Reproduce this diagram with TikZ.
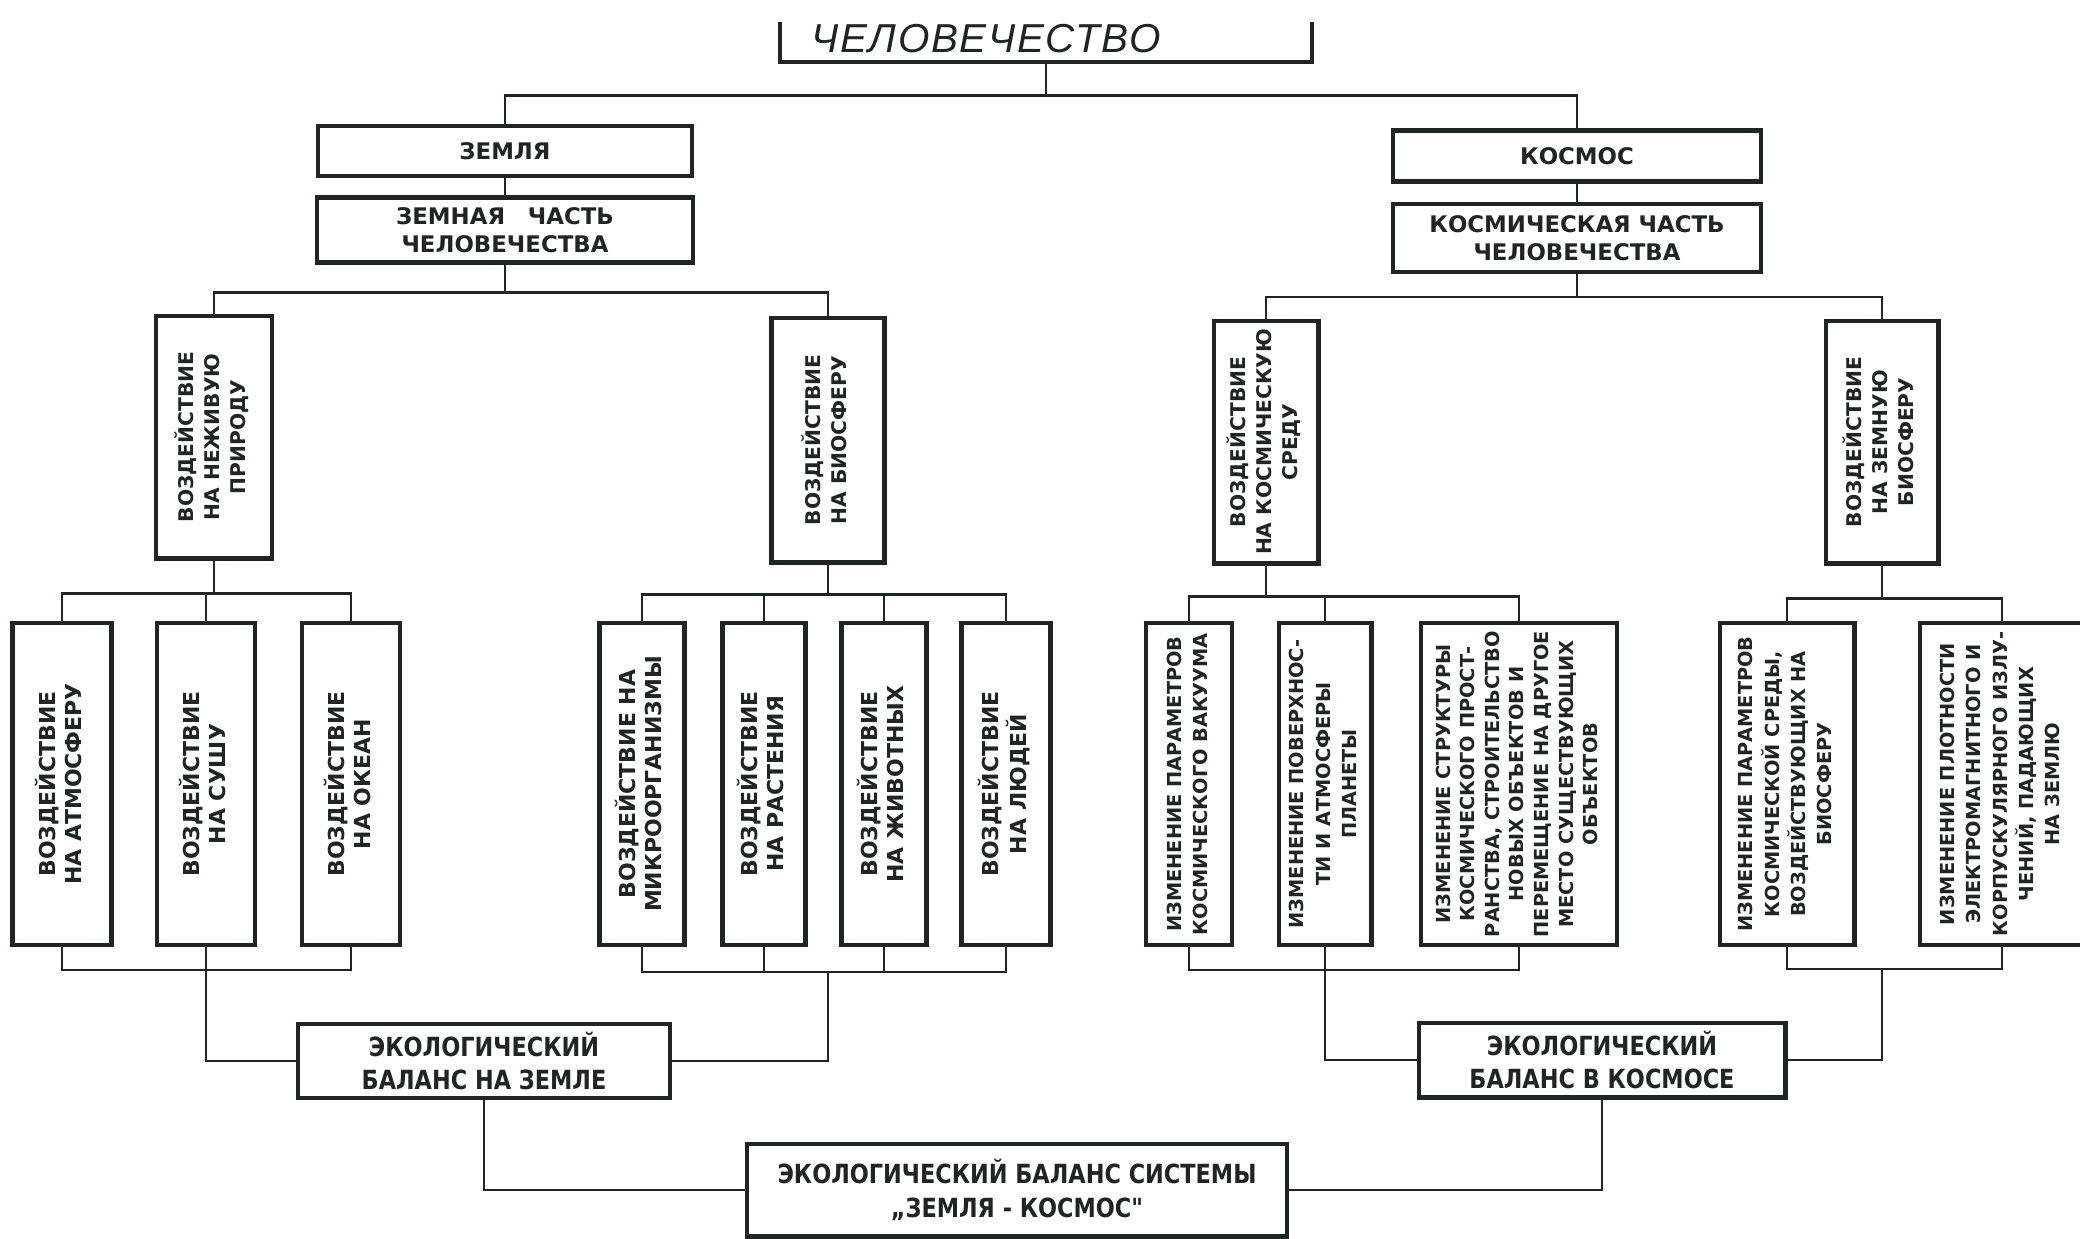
\documentclass[tikz,border=0pt]{standalone}
\usepackage{fontspec}
\setmainfont{DejaVu Sans}
\newfontfamily\handfont[LetterSpace=4]{Liberation Sans}
\newfontfamily\ecofont[FakeStretch=0.85]{DejaVu Sans}
\usepackage{graphicx}
\usepackage{tikz}

\definecolor{ink}{RGB}{30,38,34}
% rotated text, read from bottom to top
\newcommand{\vtxt}[1]{\rotatebox{90}{\begin{tabular}{@{}c@{}}#1\end{tabular}}}

\begin{document}
\begin{tikzpicture}[x=0.02cm, y=-0.02cm,
    hbox/.style={draw=ink, line width=2.3pt, text=ink, inner sep=0pt, align=center, font=\bfseries\fontsize{13}{16}\selectfont},
    vbox/.style={hbox, font=\bfseries\fontsize{12.5}{15}\selectfont},
    tbox/.style={hbox, font=\bfseries\fontsize{11.5}{15}\selectfont},
    sbox/.style={hbox, font=\bfseries\fontsize{11}{15}\selectfont},
    ecobox/.style={hbox, font=\ecofont\bfseries\fontsize{15}{19}\selectfont},
    link/.style={draw=ink, line width=1.6pt}]
    \useasboundingbox[fill=white] (0,0) rectangle (2080,1238);

    % top
    \node[text=ink, font=\handfont\itshape\fontsize{23}{25}\selectfont, minimum height=0.8cm, text width=9.38cm, inner xsep=0.62cm, inner ysep=0pt, align=left](title) at (1046,42){\raisebox{-6pt}[0pt][0pt]{ЧЕЛОВЕЧЕСТВО}};
    \draw[draw=ink, line width=2.3pt] (title.north west) |- (title.south) -| (title.north east);

    \node[hbox, minimum width=7.48cm, minimum height=1cm](zemlya) at (505,151){ЗЕМЛЯ};
    \node[hbox, minimum width=7.52cm, minimum height=1.3cm](zchast) at (505,230){ЗЕМНАЯ\quad ЧАСТЬ\\ЧЕЛОВЕЧЕСТВА};
    \node[hbox, minimum width=7.36cm, minimum height=1.02cm](kosmos) at (1577,156){КОСМОС};
    \node[hbox, minimum width=7.36cm, minimum height=1.36cm](kchast) at (1577,238){КОСМИЧЕСКАЯ ЧАСТЬ\\ЧЕЛОВЕЧЕСТВА};

    % second row
    \node[tbox, minimum width=2.32cm, minimum height=4.86cm](nezh) at (214,437){\vtxt{ВОЗДЕЙСТВИЕ\\НА НЕЖИВУЮ\\ПРИРОДУ}};
    \node[tbox, minimum width=2.26cm, minimum height=4.9cm](bio) at (828,440){\vtxt{ВОЗДЕЙСТВИЕ\\НА БИОСФЕРУ}};
    \node[tbox, minimum width=2.1cm, minimum height=4.86cm](kosm) at (1266,442){\vtxt{ВОЗДЕЙСТВИЕ\\НА КОСМИЧЕСКУЮ\\СРЕДУ}};
    \node[tbox, minimum width=2.26cm, minimum height=4.86cm](zbio) at (1882,442){\vtxt{ВОЗДЕЙСТВИЕ\\НА ЗЕМНУЮ\\БИОСФЕРУ}};

    % third row
    \node[vbox, minimum width=1.98cm, minimum height=6.44cm](atm) at (62,784){\vtxt{ВОЗДЕЙСТВИЕ\\НА АТМОСФЕРУ}};
    \node[vbox, minimum width=1.96cm, minimum height=6.44cm](sushu) at (206,784){\vtxt{ВОЗДЕЙСТВИЕ\\НА СУШУ}};
    \node[vbox, minimum width=1.96cm, minimum height=6.44cm](okean) at (351,784){\vtxt{ВОЗДЕЙСТВИЕ\\НА ОКЕАН}};
    \node[vbox, minimum width=1.7cm, minimum height=6.44cm](micro) at (642,784){\vtxt{ВОЗДЕЙСТВИЕ НА\\МИКРООРГАНИЗМЫ}};
    \node[vbox, minimum width=1.66cm, minimum height=6.44cm](rast) at (764,784){\vtxt{ВОЗДЕЙСТВИЕ\\НА РАСТЕНИЯ}};
    \node[vbox, minimum width=1.7cm, minimum height=6.44cm](zhiv) at (884,784){\vtxt{ВОЗДЕЙСТВИЕ\\НА ЖИВОТНЫХ}};
    \node[vbox, minimum width=1.78cm, minimum height=6.44cm](lyud) at (1006,784){\vtxt{ВОЗДЕЙСТВИЕ\\НА ЛЮДЕЙ}};
    \node[sbox, minimum width=1.72cm, minimum height=6.44cm](vak) at (1189,784){\vtxt{ИЗМЕНЕНИЕ ПАРАМЕТРОВ\\КОСМИЧЕСКОГО ВАКУУМА}};
    \node[sbox, minimum width=1.86cm, minimum height=6.44cm](pov) at (1325,784){\vtxt{ИЗМЕНЕНИЕ ПОВЕРХНОС-\\ТИ И АТМОСФЕРЫ\\ПЛАНЕТЫ}};
    \node[sbox, font=\bfseries\fontsize{11}{14}\selectfont, minimum width=3.92cm, minimum height=6.44cm](strukt) at (1519,784){\vtxt{ИЗМЕНЕНИЕ СТРУКТУРЫ\\КОСМИЧЕСКОГО ПРОСТ-\\РАНСТВА, СТРОИТЕЛЬСТВО\\НОВЫХ ОБЪЕКТОВ И\\ПЕРЕМЕЩЕНИЕ НА ДРУГОЕ\\МЕСТО СУЩЕСТВУЮЩИХ\\ОБЪЕКТОВ}};
    \node[sbox, minimum width=2.7cm, minimum height=6.44cm](sredy) at (1787,784){\vtxt{ИЗМЕНЕНИЕ ПАРАМЕТРОВ\\КОСМИЧЕСКОЙ СРЕДЫ,\\ВОЗДЕЙСТВУЮЩИХ НА\\БИОСФЕРУ}};
    \node[sbox, minimum width=3.28cm, minimum height=6.44cm](plot) at (2002,784){\vtxt{ИЗМЕНЕНИЕ ПЛОТНОСТИ\\ЭЛЕКТРОМАГНИТНОГО И\\КОРПУСКУЛЯРНОГО ИЗЛУ-\\ЧЕНИЙ, ПАДАЮЩИХ\\НА ЗЕМЛЮ}};

    % balance
    \node[ecobox, minimum width=7.44cm, minimum height=1.48cm](ecoZ) at (484,1061){ЭКОЛОГИЧЕСКИЙ\\БАЛАНС НА ЗЕМЛЕ};
    \node[ecobox, minimum width=7.34cm, minimum height=1.5cm](ecoK) at (1602,1060){ЭКОЛОГИЧЕСКИЙ\\БАЛАНС В КОСМОСЕ};
    \node[ecobox, minimum width=10.8cm, minimum height=1.86cm](final) at (1017,1190){ЭКОЛОГИЧЕСКИЙ БАЛАНС СИСТЕМЫ\\„ЗЕМЛЯ - КОСМОС"};

    % going down
    \draw[link](title.south) -- ++(0,33) coordinate(bar0);
    \draw[link](zemlya.north) |- (bar0) -| (kosmos.north);
    \draw[link](zemlya) -- (zchast);
    \draw[link](kosmos) -- (kchast);
    \draw[link](zchast.south) -- ++(0,28) coordinate(barZ);
    \draw[link](nezh.north) |- (barZ) -| (bio.north);
    \draw[link](kchast.south) -- ++(0,23) coordinate(barK);
    \draw[link](kosm.north) |- (barK) -| (zbio.north);

    \draw[link](nezh.south) -- ++(0,33) coordinate(barN);
    \draw[link](atm.north) |- (barN) -| (okean.north);
    \draw[link](sushu.north) -- (sushu.north |- barN);
    \draw[link](bio.south) -- ++(0,30) coordinate(barB);
    \draw[link](micro.north) |- (barB) -| (lyud.north);
    \foreach \n in {rast,zhiv}
        \draw[link](\n.north) -- (\n.north |- barB);
    \draw[link](kosm.south) -- ++(0,31) coordinate(barS);
    \draw[link](vak.north) |- (barS) -| (strukt.north);
    \draw[link](pov.north) -- (pov.north |- barS);
    \draw[link](zbio.south) -- ++(0,33) coordinate(barE);
    \draw[link](sredy.north) |- (barE) -| (plot.north);

    % coming together
    \draw[link](atm.south) -- ++(0,23) coordinate(botN) -| (okean.south);
    \draw[link](sushu.south) |- (ecoZ.west);
    \draw[link](micro.south) -- ++(0,25) coordinate(botB) -| (lyud.south);
    \foreach \n in {rast,zhiv}
        \draw[link](\n.south) -- (\n.south |- botB);
    \draw[link](ecoZ.east) -| (bio.south |- botB);
    \draw[link](vak.south) -- ++(0,23) coordinate(botS) -| (strukt.south);
    \draw[link](pov.south) |- (ecoK.west);
    \draw[link](sredy.south) -- ++(0,22) coordinate(botE) -| (plot.south);
    \draw[link](ecoK.east) -| (zbio.south |- botE);
    \draw[link](ecoZ.south) |- (final.west);
    \draw[link](ecoK.south) |- (final.east);
\end{tikzpicture}
\end{document}
